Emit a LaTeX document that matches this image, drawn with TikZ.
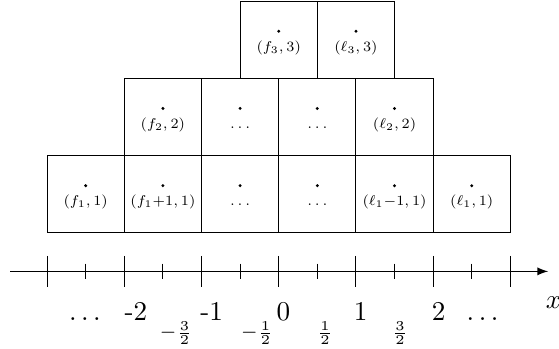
\documentclass[tikz,border=0pt]{standalone}
\begin{document}
\begin{tikzpicture}[
  cell/.style={draw,minimum size=1cm,inner sep=0pt},
  cellname/.style={font=\scriptsize,scale=0.75,anchor=base,inner sep=0pt},
  ticklabel/.style={anchor=base,inner sep=0pt},
  halflabel/.style={font=\scriptsize,inner sep=0pt}]
\useasboundingbox (-3.61,-1.0) rectangle (3.63,3.515);
% bottom row
\node[cell] (c11) at (-2.5,1) {};
\node[cell] (c12) at (-1.5,1) {};
\node[cell] (c13) at (-0.5,1) {};
\node[cell] (c14) at (0.5,1) {};
\node[cell] (c15) at (1.5,1) {};
\node[cell] (c16) at (2.5,1) {};
% middle row
\node[cell] (c21) at (-1.5,2) {};
\node[cell] (c22) at (-0.5,2) {};
\node[cell] (c23) at (0.5,2) {};
\node[cell] (c24) at (1.5,2) {};
% top row
\node[cell] (c31) at (0,3) {};
\node[cell] (c32) at (1,3) {};
\foreach \c in {c11,c12,c13,c14,c15,c16,c21,c22,c23,c24,c31,c32}
  \fill ([yshift=0.11cm]\c.center) circle (0.6pt);
\node[cellname] (n11) at ([yshift=-0.15cm]c11.center) {$(f_1,1)$};
\node[cellname] (n12) at ([yshift=-0.15cm]c12.center) {$(f_1{+}1,1)$};
\node[cellname] (n13) at ([yshift=-0.15cm]c13.center) {$\dots$};
\node[cellname] (n14) at ([yshift=-0.15cm]c14.center) {$\dots$};
\node[cellname] (n15) at ([yshift=-0.15cm]c15.center) {$(\ell_1{-}1,1)$};
\node[cellname] (n16) at ([yshift=-0.15cm]c16.center) {$(\ell_1,1)$};
\node[cellname] (n21) at ([yshift=-0.15cm]c21.center) {$(f_2,2)$};
\node[cellname] (n22) at ([yshift=-0.15cm]c22.center) {$\dots$};
\node[cellname] (n23) at ([yshift=-0.15cm]c23.center) {$\dots$};
\node[cellname] (n24) at ([yshift=-0.15cm]c24.center) {$(\ell_2,2)$};
\node[cellname] (n31) at ([yshift=-0.15cm]c31.center) {$(f_3,3)$};
\node[cellname] (n32) at ([yshift=-0.15cm]c32.center) {$(\ell_3,3)$};
% axis
\coordinate (xl) at (-3.48,0);
\coordinate (xr) at (3.49,0);
\draw[-latex] (xl) -- (xr);
\foreach \i in {-3,...,3}
  \draw (\i,0.2) -- (\i,-0.2);
\foreach \i in {-2.5,-1.5,...,2.5}
  \draw (\i,0.1) -- (\i,-0.1);
\node (xlab) at (3.56,-0.4) {$x$};
\node[ticklabel] (tdl) at (-2.51,-0.63) {$\dots$};
\node[ticklabel] (tm2) at (-1.85,-0.63) {-2};
\node[ticklabel] (tm1) at (-0.87,-0.63) {-1};
\node[ticklabel] (t0) at (0.06,-0.63) {0};
\node[ticklabel] (t1) at (1.06,-0.63) {1};
\node[ticklabel] (t2) at (2.07,-0.63) {2};
\node[ticklabel] (tdr) at (2.64,-0.63) {$\dots$};
\node[halflabel] (hm3) at (-1.33,-0.8) {$-\frac{3}{2}$};
\node[halflabel] (hm1) at (-0.28,-0.8) {$-\frac{1}{2}$};
\node[halflabel] (h1) at (0.6,-0.8) {$\frac{1}{2}$};
\node[halflabel] (h3) at (1.57,-0.8) {$\frac{3}{2}$};
\end{tikzpicture}
\end{document}
